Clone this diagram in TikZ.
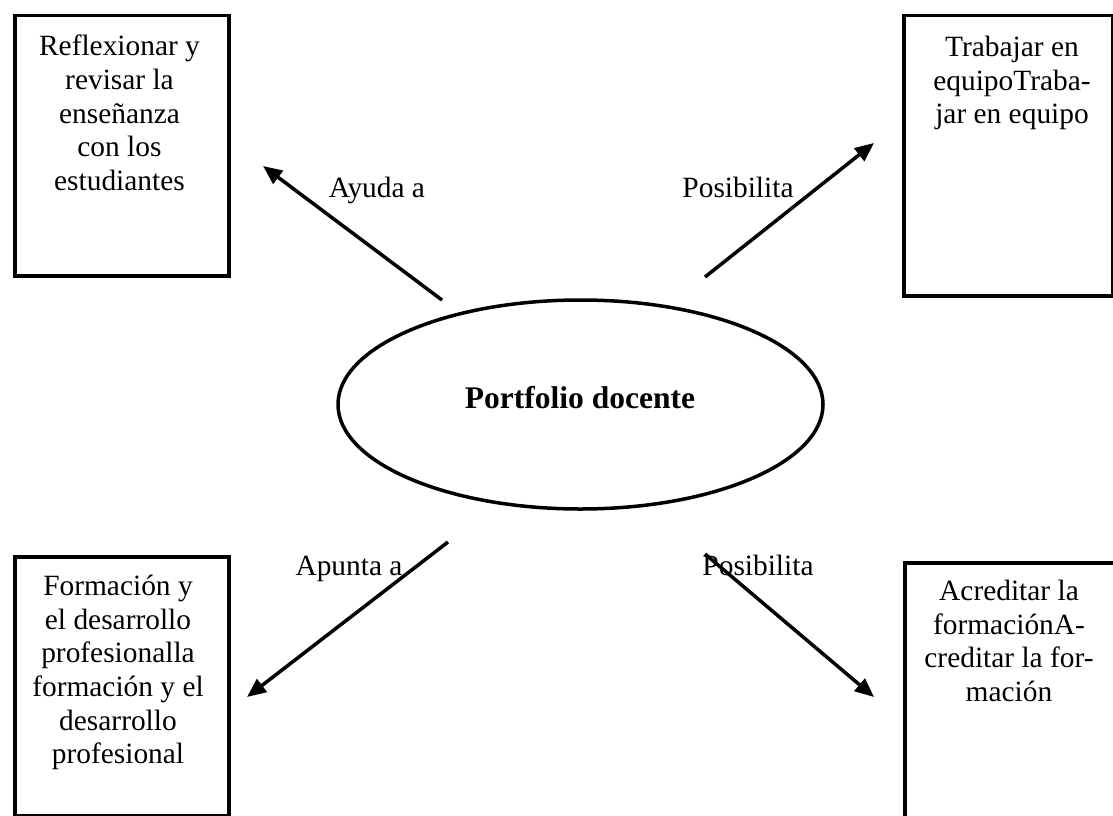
\documentclass[tikz,border=0pt]{standalone}
\usepackage{fontspec}
\setmainfont{Liberation Serif}
\usetikzlibrary{arrows.meta,shapes.geometric}
\begin{document}
\begin{tikzpicture}[x=1pt,y=-1pt,
  boxshape/.style={draw,line width=3.5pt,rectangle,anchor=north west,inner sep=0pt},
  boxtext/.style={align=center,anchor=north,inner sep=0pt,font=\fontsize{29.4}{33.6}\selectfont},
  lbl/.style={anchor=base,inner sep=0pt,font=\fontsize{29.4}{33.6}\selectfont},
  arr/.style={line width=3.5pt,-{Triangle[length=19pt,width=16pt]}}]
\useasboundingbox (0,0) rectangle (1113,816);
\clip (0,0) rectangle (1113,816);
% boxes
\node[boxshape,minimum width=214pt,minimum height=260pt] (b1) at (13,14) {};
\node[boxshape,minimum width=209pt,minimum height=280pt] (b2) at (902,14) {};
\node[boxshape,minimum width=214pt,minimum height=259pt] (b3) at (13,555) {};
\node[boxshape,minimum width=260pt,minimum height=300pt] (b4) at (903,561) {};
% box texts
\node[boxtext] (t1) at (119.5,35) {Reflexionar y\\revisar la\\enseñanza\\con los\\estudiantes};
\node[boxtext] (t2) at (1012,36) {Trabajar en\\equipoTraba-\\jar en equipo};
\node[boxtext] (t3) at (118,575) {Formación y\\el desarrollo\\profesionalla\\formación y el\\desarrollo\\profesional};
\node[boxtext] (t4) at (1009,580) {Acreditar la\\formaciónA-\\creditar la for-\\mación};
% central ellipse
\node[draw,ellipse,line width=3.5pt,minimum width=485pt,minimum height=209pt,inner sep=0pt] (ell) at (580.5,404.5) {};
\node[anchor=base,inner sep=0pt,font=\fontsize{31.5}{36}\selectfont\bfseries] (title) at (580,408) {Portfolio docente};
% labels
\node[lbl] (l1) at (377,197) {Ayuda a};
\node[lbl] (l2) at (738,197) {Posibilita};
\node[lbl] (l3) at (349,575) {Apunta a};
\node[lbl] (l4) at (758,575) {Posibilita};
% connector ends
\coordinate (a1s) at (442,300); \coordinate (a1e) at (263,166);
\coordinate (a2s) at (705,277); \coordinate (a2e) at (874,143);
\coordinate (a3s) at (448,542); \coordinate (a3e) at (247,697);
\coordinate (a4s) at (705,554); \coordinate (a4e) at (874,697);
\draw[arr] (a1s) -- (a1e);
\draw[arr] (a2s) -- (a2e);
\draw[arr] (a3s) -- (a3e);
\draw[arr] (a4s) -- (a4e);
\end{tikzpicture}
\end{document}
